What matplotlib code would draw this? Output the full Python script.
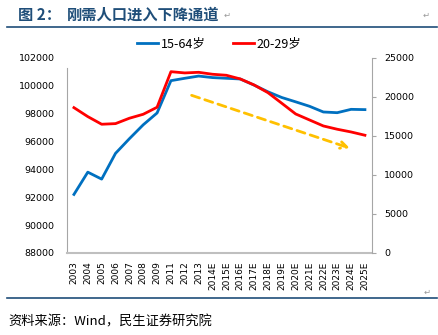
import matplotlib
matplotlib.use('Agg')
import matplotlib.pyplot as plt

plt.rcParams['font.family'] = ['Noto Sans CJK SC', 'DejaVu Sans']

# categories and series
years = ['2003', '2004', '2005', '2006', '2007', '2008', '2009', '2011', '2012', '2013',
         '2014E', '2015E', '2016E', '2017E', '2018E', '2019E', '2020E', '2021E',
         '2022E', '2023E', '2024E', '2025E']
pop_15_64 = [92200, 93800, 93300, 95150, 96200, 97200, 98050, 100370, 100540, 100700,
             100590, 100540, 100490, 100050, 99570, 99160, 98850, 98530,
             98120, 98070, 98310, 98290]
pop_20_29 = [18630, 17480, 16500, 16580, 17270, 17780, 18680, 23240, 23080, 23160,
             22910, 22780, 22310, 21540, 20550, 19190, 17820, 17050,
             16280, 15860, 15510, 15090]
left_ticks = [88000, 90000, 92000, 94000, 96000, 98000, 100000, 102000]
right_ticks = [0, 5000, 10000, 15000, 20000, 25000]

blue = '#0070C0'
red = '#FF0000'
gold = '#FFC000'
grey = '#A6A6A6'
navy = '#1F4E79'

fig = plt.figure(figsize=(4.38, 3.35), dpi=100)
ax = fig.add_axes([0.153, 0.245, 0.696, 0.582])
ax2 = ax.twinx()

x = list(range(len(years)))
l1, = ax.plot(x, pop_15_64, color=blue, lw=2, label='15-64岁')
l2, = ax2.plot(x, pop_20_29, color=red, lw=2, label='20-29岁')

ax.set_xlim(-0.5, len(years) - 0.5)
ax.set_ylim(88000, 102000)
ax2.set_ylim(0, 25000)
ax.set_yticks(left_ticks)
ax2.set_yticks(right_ticks)
ax.set_xticks(x)
ax.set_xticklabels(years, rotation=90, fontsize=6.5, family='DejaVu Sans')
ax.tick_params(axis='x', length=0, pad=6)
ax.tick_params(axis='y', length=0, pad=9, labelsize=6.8)
ax2.tick_params(axis='y', length=3, width=0.8, color=grey, pad=6, labelsize=6.8)
for lab in ax.get_yticklabels() + ax2.get_yticklabels():
    lab.set_family('DejaVu Sans')

for a in (ax, ax2):
    for s in a.spines.values():
        s.set_visible(False)
ax.spines['left'].set_visible(True)
ax.spines['left'].set_color(grey)
ax.spines['left'].set_bounds(88000, 101300)
ax.spines['bottom'].set_visible(True)
ax.spines['bottom'].set_color('#BFBFBF')
ax.spines['bottom'].set_linewidth(1.5)
ax2.spines['right'].set_visible(True)
ax2.spines['right'].set_color(grey)

# dashed trend arrow
ax.annotate('', xy=(20.1, 95460), xytext=(8.3, 99380),
            arrowprops=dict(arrowstyle='->', color=gold, lw=2, linestyle=(0, (3, 2)),
                            mutation_scale=12))

fig.legend(handles=[l1, l2], loc='center', bbox_to_anchor=(0.5, 0.868), ncol=2,
           frameon=False, fontsize=9, handlelength=1.7, handletextpad=0.2,
           columnspacing=2.2)

# title, rules and source
fig.text(18 / 438, 1 - 15 / 335, '图 2：', color=navy, fontsize=11, fontweight='bold',
         va='center')
fig.text(67 / 438, 1 - 15 / 335, '刚需人口进入下降通道', color=navy, fontsize=11,
         fontweight='bold', va='center')
fig.text(224 / 438, 1 - 15 / 335, '↵', color='#999999', fontsize=6, va='center')
fig.text(423 / 438, 1 - 15 / 335, '↵', color='#999999', fontsize=6, va='center')
fig.add_artist(plt.Line2D([7 / 438, 437 / 438], [1 - 27 / 335, 1 - 27 / 335],
                          color=navy, lw=1.2))
fig.add_artist(plt.Line2D([7 / 438, 437 / 438], [1 - 298 / 335, 1 - 298 / 335],
                          color=navy, lw=1.2))
fig.text(424 / 438, 1 - 292 / 335, '↵', color='#999999', fontsize=6, va='center')
fig.text(8 / 438, 1 - 322 / 335, '资料来源：Wind，民生证券研究院', color='black',
         fontsize=9.5, va='center')

fig.savefig('out.png', dpi=100)
